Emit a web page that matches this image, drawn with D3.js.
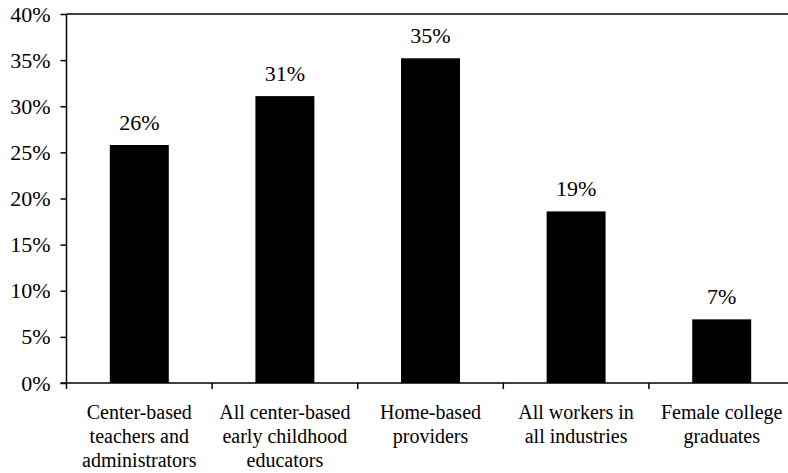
<!DOCTYPE html>
<html><head><meta charset="utf-8">
<script src="https://cdn.jsdelivr.net/npm/d3@7"></script>
<style>body{margin:0;background:#fff}svg{display:block}
text{font-family:"Liberation Serif","Times New Roman",Times,"DejaVu Serif",serif;}</style>
</head><body>
<svg id="c" width="788" height="473"></svg>
<script>
const categories = [
  ["Center-based","teachers and","administrators"],
  ["All center-based","early childhood","educators"],
  ["Home-based","providers"],
  ["All workers in","all industries"],
  ["Female college","graduates"]
];
const values = [25.8, 31.1, 35.2, 18.6, 6.9];
const valueLabels = ["26%","31%","35%","19%","7%"];
const yTicks = [0,5,10,15,20,25,30,35,40];

(function(){
const svg = d3.select("#c");
const pL = 66.5, pR = 794.5, pT = 14, pB = 383;
const font = '"Liberation Serif","Times New Roman",Times,"DejaVu Serif",serif';

const x = d3.scaleBand().domain(d3.range(categories.length))
  .range([pL, pR]).paddingInner(0.595).paddingOuter(0.2975);
const y = d3.scaleLinear().domain([0,40]).range([pB, pT]);

svg.selectAll("rect.bar").data(values).join("rect")
  .attr("x",(d,i)=>x(i)).attr("width",x.bandwidth())
  .attr("y",d=>y(d)).attr("height",d=>y(0)-y(d))
  .attr("fill","#000");

svg.selectAll("text.val").data(values).join("text")
  .attr("x",(d,i)=>x(i)+x.bandwidth()/2).attr("y",d=>y(d)-15)
  .attr("text-anchor","middle").style("font-family",font).style("font-size","22px")
  .attr("fill","#000").text((d,i)=>valueLabels[i]);

const yAxis = d3.axisLeft(y).tickValues(yTicks).tickFormat(d=>d+"%").tickSize(6).tickPadding(10);
const ga = svg.append("g").attr("transform",`translate(${pL},0)`).call(yAxis);
ga.attr("font-family",null).attr("font-size",null);
ga.select(".domain").remove();
ga.selectAll("line").attr("stroke","#000").attr("stroke-width",1.5);
ga.selectAll("text").style("font-family",font).style("font-size","22px").attr("fill","#000");
svg.append("line").attr("x1",pL).attr("x2",pL).attr("y1",pT).attr("y2",pB)
  .attr("stroke","#000").attr("stroke-width",1.5);
svg.append("line").attr("x1",pL).attr("x2",788).attr("y1",y(40)).attr("y2",y(40))
  .attr("stroke","#000").attr("stroke-width",1.5);

svg.append("line").attr("x1",pL-6).attr("x2",788).attr("y1",pB).attr("y2",pB)
  .attr("stroke","#000").attr("stroke-width",1.5);
const step = x.step();
svg.selectAll("line.xt").data(d3.range(categories.length+1)).join("line")
  .attr("x1",i=>pL+i*step).attr("x2",i=>pL+i*step)
  .attr("y1",pB).attr("y2",pB+6).attr("stroke","#000").attr("stroke-width",1.5);

const cl = svg.selectAll("text.cat").data(categories).join("text")
  .attr("text-anchor","middle").style("font-family",font).style("font-size","20px").attr("fill","#000");
cl.each(function(lines,i){
  const t = d3.select(this);
  lines.forEach((ln,j)=>{
    t.append("tspan").attr("x",x(i)+x.bandwidth()/2).attr("y",419+j*24).text(ln);
  });
});
})();
</script>
</body></html>
